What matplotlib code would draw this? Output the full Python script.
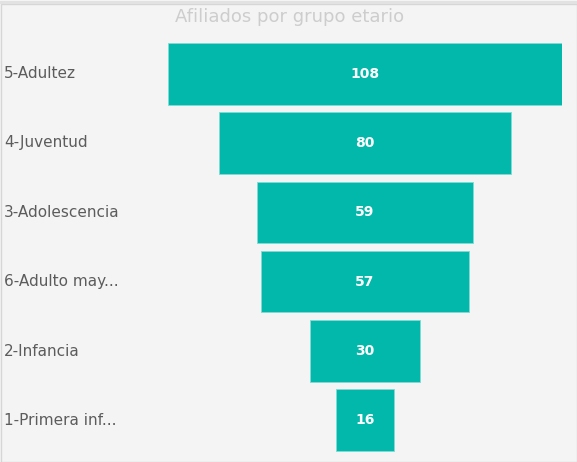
import matplotlib.pyplot as plt
from matplotlib.patches import Rectangle

categories = ["5-Adultez", "4-Juventud", "3-Adolescencia", "6-Adulto may...", "2-Infancia", "1-Primera inf..."]
values = [108, 80, 59, 57, 30, 16]

W, H = 577, 462
fig = plt.figure(figsize=(W / 100, H / 100), dpi=100)
fig.patch.set_facecolor("#f4f4f4")

# axes placed in pixel coords: bars span x 168..562, rows y 39.5..454.5
ax = fig.add_axes([168 / W, 1 - 454.5 / H, 394 / W, 415 / H])
ax.set_facecolor("#f4f4f4")
ax.set_xlim(-54, 54)
ax.set_ylim(len(values) - 0.5, -0.5)
ax.axis("off")

ypos = range(len(values))
ax.barh(ypos, values, left=[-v / 2 for v in values], height=0.89,
        color="#01b8aa", edgecolor="#7fdcd4", linewidth=0.6)

for y, v, c in zip(ypos, values, categories):
    ax.text(0, y, str(v), ha="center", va="center", color="white",
            fontsize=10, fontweight="bold", family="DejaVu Sans")
    fig.text(4 / W, 1 - (73.5 + y * 69.4) / H, c, ha="left", va="center",
             color="#5c5c5c", fontsize=11, family="DejaVu Sans")

fig.text(290 / W, 1 - 17 / H, "Afiliados por grupo etario", ha="center", va="center",
         color="#cdcdcd", fontsize=13, family="DejaVu Sans")

# panel border
fig.add_artist(Rectangle((0.5 / W, 0.5 / H), 1 - 1 / W, 1 - 4 / H, transform=fig.transFigure,
                         fill=False, edgecolor="#d6d6d6", linewidth=1))
fig.add_artist(Rectangle((0, 1 - 4 / H), 1, 3 / H, transform=fig.transFigure,
                         facecolor="#e2e2e2", edgecolor="none"))

fig.savefig("out.png", dpi=100, facecolor=fig.get_facecolor())
